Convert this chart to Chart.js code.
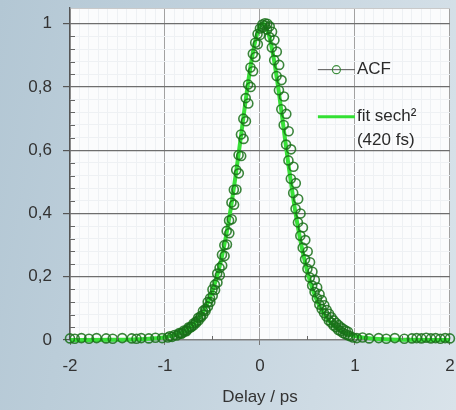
<!DOCTYPE html>
<html><head><meta charset="utf-8">
<script src="https://cdn.jsdelivr.net/npm/chart.js@4.4.0/dist/chart.umd.min.js"></script>
<style>
html,body{margin:0;padding:0;width:456px;height:410px;overflow:hidden;}
body{background:linear-gradient(100deg,#b3c7d4 0%,#c3d3de 45%,#d9e3ea 100%);}
canvas{display:block;}
</style></head><body>
<canvas id="c" width="456" height="410"></canvas>
<script>
// ---- data ----
// ACF scan 1
const acfX = [-2.0,-1.95,-1.88,-1.8,-1.72,-1.62,-1.55,-1.45,-1.35,-1.3,-1.25,-1.17,-1.1,-1.03,-0.97,
  -0.95,-0.925,-0.9,-0.875,-0.85,-0.825,-0.8,-0.775,-0.75,-0.725,-0.7,-0.675,-0.65,-0.625,-0.6,-0.575,
  -0.55,-0.525,-0.5,-0.475,-0.45,-0.425,-0.4,-0.375,-0.35,-0.325,-0.3,-0.275,-0.25,-0.225,-0.2,-0.175,
  -0.15,-0.125,-0.1,-0.075,-0.05,-0.025,0,0.025,0.05,0.075,0.1,0.125,0.15,0.175,0.2,0.225,0.25,0.275,
  0.3,0.325,0.35,0.375,0.4,0.425,0.45,0.475,0.5,0.525,0.55,0.575,0.6,0.625,0.65,0.675,0.7,0.725,0.75,
  0.775,0.8,0.825,0.85,0.875,0.9,0.925,0.95,
  0.98,1.02,1.08,1.15,1.25,1.33,1.42,1.52,1.6,1.65,1.7,1.75,1.8,1.85,1.9,1.95,2.0];
const acfY = [0.005,0.004,0.006,0.004,0.006,0.005,0.004,0.006,0.005,0.004,0.006,0.005,0.007,0.006,0.008,
  0.012,0.010,0.016,0.014,0.022,0.020,0.030,0.028,0.040,0.042,0.052,0.058,0.070,0.075,0.092,0.098,
  0.120,0.132,0.160,0.175,0.210,0.228,0.270,0.300,0.345,0.378,0.435,0.475,0.538,0.585,0.650,0.700,
  0.765,0.808,0.862,0.905,0.940,0.968,0.985,0.998,0.995,0.982,0.958,0.925,0.885,0.835,0.790,0.730,0.680,0.618,
  0.568,0.510,0.465,0.415,0.372,0.330,0.292,0.255,0.225,0.198,0.172,0.152,0.132,0.112,0.098,0.085,0.074,0.062,0.055,
  0.046,0.040,0.032,0.028,0.022,0.018,0.015,0.012,
  0.008,0.006,0.008,0.005,0.006,0.004,0.006,0.004,0.005,0.006,0.005,0.007,0.005,0.006,0.004,0.006,0.005];
// ACF scan 2 (interleaved points, slightly delayed)
const acf2X = [-0.8475,-0.8225,-0.7975,-0.7725,-0.7475,-0.7225,-0.6975,-0.6725,-0.6475,-0.6225,-0.5975,-0.5725,
  -0.5475,-0.5225,-0.4975,-0.4725,-0.4475,-0.4225,-0.3975,-0.3725,-0.3475,-0.3225,-0.2975,-0.2725,-0.2475,-0.2225,
  -0.1975,-0.1725,-0.1475,-0.1225,-0.0975,-0.0725,-0.0475,-0.0225,0.0025,0.0275,0.0525,0.0775,0.1025,0.1275,
  0.1525,0.1775,0.2025,0.2275,0.2525,0.2775,0.3025,0.3275,0.3525,0.3775,0.4025,0.4275,0.4525,0.4775,0.5025,0.5275,
  0.5525,0.5775,0.6025,0.6275,0.6525,0.6775,0.7025,0.7275,0.7525,0.7775,0.8025,0.8275,0.8525,0.8775,0.9025,0.9275];
const acf2Y = [0.020,0.022,0.026,0.031,0.036,0.041,0.047,0.054,0.062,0.071,0.080,0.092,
  0.106,0.120,0.140,0.158,0.182,0.205,0.236,0.266,0.302,0.338,0.382,0.428,0.476,0.527,
  0.582,0.636,0.692,0.748,0.800,0.850,0.895,0.935,0.965,0.988,1.002,1.000,0.992,0.975,
  0.948,0.912,0.870,0.822,0.770,0.715,0.660,0.603,0.548,0.496,0.446,0.400,0.356,0.316,0.280,0.246,
  0.216,0.190,0.166,0.145,0.126,0.110,0.095,0.083,0.072,0.062,0.054,0.047,0.040,0.035,0.030,0.026];
// fit sech^2
const fitX = [-2,-1.5,-1.2,-1,-0.95,-0.9,-0.85,-0.8,-0.75,-0.7,-0.65,-0.6,-0.55,-0.5,-0.45,-0.4,-0.35,-0.3,-0.25,
  -0.2,-0.15,-0.1,-0.05,0,0.03,0.05,0.1,0.15,0.2,0.25,0.3,0.35,0.4,0.45,0.5,0.55,0.6,0.65,0.7,0.75,0.8,0.85,0.9,0.95,1,1.2,1.5,2];
const fitY = [0,0.0005,0.0033,0.0086,0.0115,0.0154,0.0207,0.0278,0.0373,0.050,0.0668,0.0888,0.1179,0.1556,0.2039,0.265,0.340,0.4296,0.5326,
  0.6446,0.7591,0.8638,0.945,0.992,1.0,0.9964,0.9576,0.882,0.7817,0.6678,0.5546,0.4493,0.3568,0.2786,0.2151,0.1644,0.1248,0.094,0.0707,0.0529,0.0395,0.0295,0.022,0.0164,0.0122,0.0037,0.0007,0];
const seriesNames = ['ACF', ['fit sech²', '(420 fs)']];
const xTickLabels = ['-2', '-1', '0', '1', '2'];
const yTickLabels = ['0', '0,2', '0,4', '0,6', '0,8', '1'];
const xAxisTitle = 'Delay / ps';

// ---- styling ----
const FONT = {family: "'Liberation Sans', Arial, sans-serif", size: 17};
const isMajorY = v => Math.abs(v * 5 - Math.round(v * 5)) < 1e-6 && v <= 1.0001;
const isMajorX = v => Math.abs(v - Math.round(v)) < 1e-6;

const plotDeco = {
  id: 'plotDeco',
  beforeDraw(chart) {
    const {ctx, chartArea: a} = chart;
    ctx.save();
    ctx.fillStyle = '#fbfcfd';
    ctx.fillRect(a.left, a.top, a.right - a.left, a.bottom - a.top);
    ctx.restore();
  },
  afterDraw(chart) {
    const {ctx, chartArea: a, scales} = chart;
    ctx.save();
    // inner minor ticks
    ctx.strokeStyle = '#666';
    ctx.lineWidth = 1;
    scales.y.ticks.forEach(t => {
      if (!isMajorY(t.value) && t.value < 1.0) {
        const y = Math.round(scales.y.getPixelForValue(t.value)) + 0.5;
        ctx.beginPath(); ctx.moveTo(a.left, y); ctx.lineTo(a.left + 5, y); ctx.stroke();
      }
    });
    [-1.5, -0.5, 0.5, 1.5].forEach(v => {
      const x = Math.round(scales.x.getPixelForValue(v)) + 0.5;
      ctx.beginPath(); ctx.moveTo(x, a.bottom); ctx.lineTo(x, a.bottom - 4); ctx.stroke();
    });
    // legend inside the plot
    const lx0 = scales.x.getPixelForValue(0.61), lx1 = scales.x.getPixelForValue(1.0);
    const yA = scales.y.getPixelForValue(0.855), yF = scales.y.getPixelForValue(0.706);
    ctx.strokeStyle = '#555'; ctx.lineWidth = 1;
    ctx.beginPath(); ctx.moveTo(lx0, yA); ctx.lineTo(lx1, yA); ctx.stroke();
    ctx.strokeStyle = 'rgba(40,130,40,0.9)'; ctx.lineWidth = 1.2;
    ctx.beginPath(); ctx.arc((lx0 + lx1) / 2, yA, 4, 0, Math.PI * 2); ctx.stroke();
    ctx.strokeStyle = '#33e033'; ctx.lineWidth = 3;
    ctx.beginPath(); ctx.moveTo(lx0, yF); ctx.lineTo(lx1, yF); ctx.stroke();
    ctx.fillStyle = '#2a2a2a';
    ctx.font = `${FONT.size}px ${FONT.family}`;
    ctx.textAlign = 'left'; ctx.textBaseline = 'middle';
    ctx.fillText(seriesNames[0], lx1 + 2, yA);
    seriesNames[1].forEach((s, i) => ctx.fillText(s, lx1 + 2, yF + i * 24));
    ctx.restore();
  }
};

const acfPoints = acfX.map((x, i) => ({x, y: acfY[i]}))
  .concat(acf2X.map((x, i) => ({x, y: acf2Y[i]})));

new Chart(document.getElementById('c'), {
  type: 'scatter',
  data: {
    datasets: [
      {
        label: seriesNames[0],
        data: acfPoints,
        showLine: false,
        pointRadius: 4.5,
        pointBorderWidth: 1.6,
        pointBorderColor: 'rgba(25,112,25,0.85)',
        pointBackgroundColor: 'rgba(0,0,0,0)',
        clip: false
      },
      {
        label: seriesNames[1].join(' '),
        data: fitX.map((x, i) => ({x, y: fitY[i]})),
        showLine: true,
        borderColor: '#38e038',
        borderWidth: 4,
        pointRadius: 0,
        cubicInterpolationMode: 'monotone',
        clip: false
      }
    ]
  },
  options: {
    responsive: false,
    animation: false,
    devicePixelRatio: 1,
    layout: {padding: {top: 8, right: 6, left: 0, bottom: 0}},
    plugins: {legend: {display: false}, tooltip: {enabled: false}},
    scales: {
      x: {
        type: 'linear', min: -2, max: 2,
        ticks: {
          stepSize: 0.1, autoSkip: false, maxRotation: 0, padding: 11,
          font: FONT, color: '#333',
          callback: v => isMajorX(v) ? xTickLabels[Math.round(v) + 2] : ''
        },
        grid: {
          color: c => isMajorX(c.tick.value) ? '#a2a2a2' : '#eef1f4',
          tickColor: c => isMajorX(c.tick.value) ? '#777' : 'rgba(0,0,0,0)',
          tickLength: 5, lineWidth: 1
        },
        border: {color: '#808080', width: 1.2},
        title: {display: true, text: xAxisTitle, font: FONT, color: '#333', padding: {top: 0, bottom: 2}},
        afterFit: s => { s.height = 70; s.paddingLeft = 0; s.paddingRight = 0; }
      },
      y: {
        type: 'linear', min: 0, max: 1.05,
        ticks: {
          stepSize: 0.04, autoSkip: false, padding: 11,
          font: FONT, color: '#333',
          callback: v => isMajorY(v) ? yTickLabels[Math.round(v * 5)] : ''
        },
        grid: {
          color: c => c.tick.value > 1.02 ? '#c9c9c9' : (isMajorY(c.tick.value) ? '#6e6e6e' : '#eef1f4'),
          lineWidth: c => isMajorY(c.tick.value) ? 1.2 : 1,
          tickColor: c => isMajorY(c.tick.value) ? '#555' : 'rgba(0,0,0,0)',
          tickLength: 7
        },
        border: {color: '#555', width: 1.3},
        afterFit: s => { s.width = 70; s.paddingTop = 0; s.paddingBottom = 0; }
      }
    }
  },
  plugins: [plotDeco]
});
</script>
</body></html>
